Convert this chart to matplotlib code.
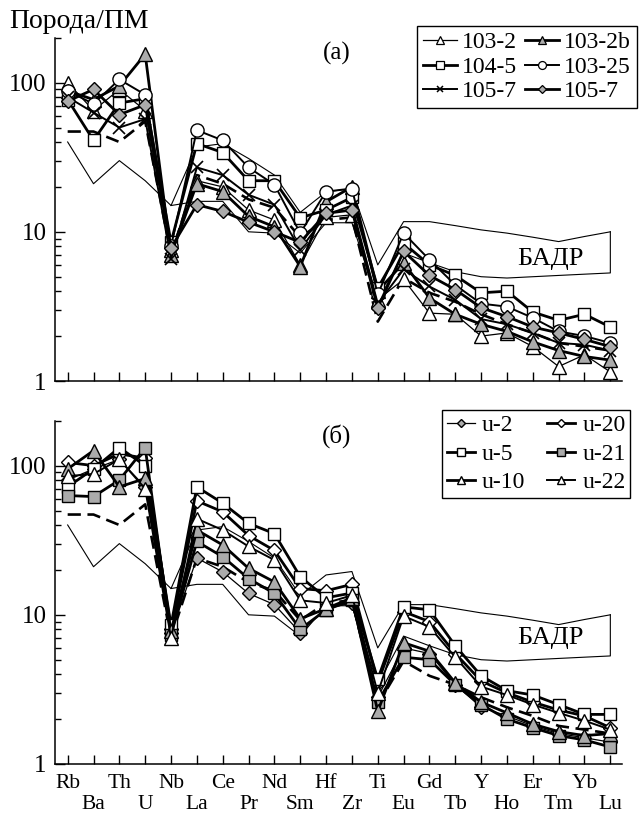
import matplotlib
matplotlib.use("Agg")
import matplotlib.pyplot as plt
from matplotlib.lines import Line2D
from matplotlib.ticker import LogLocator, NullFormatter, FixedLocator
import numpy as np

plt.rcParams['font.family'] = ['Liberation Serif', 'DejaVu Serif']

elements = ["Rb", "Ba", "Th", "U", "Nb", "La", "Ce", "Pr", "Nd", "Sm", "Hf",
            "Zr", "Ti", "Eu", "Gd", "Tb", "Y", "Ho", "Er", "Tm", "Yb", "Lu"]

# BADR field outline (shared by both panels)
field_upper_elems = ["Rb", "Ba", "Th", "U", "Nb", "La", "Ce", "Pr", "Nd", "Sm", "Hf",
                     "Zr", "Ti", "Eu", "Gd", "Tb", "Y", "Ho", "Er", "Tm", "Yb", "Lu"]
field_upper = [40, 21, 30, 22, 15, 37, 39, 31, 24, 13.5, 18.5, 19.5, 6.0,
               11.7, 11.7, 11.0, 10.3, 9.8, 9.2, 8.6, 9.3, 10.0]
field_lower_elems = ["Nb", "La", "Ce", "Pr", "Nd", "Sm", "Hf", "Zr", "Ti", "Eu",
                     "Gd", "Tb", "Y", "Ho", "Er", "Tm", "Yb", "Lu", "Lu"]
field_lower = [15, 16, 16, 10, 9.8, 7.2, 11.5, 11.5, 3.4, 7.2, 6.2, 5.4, 5.0,
               4.9, 5.0, 5.1, 5.2, 5.3, 10.0]

# reference dashed pattern
dashed_ref = [47, 47, 40, 55, 7.0, 24, 21, 16.5, 14.5, 9.2, 12, 12.5, 2.5,
              4.9, 3.9, 3.4, 2.8, 2.4, 2.1, 1.8, 1.7, 1.6]

# panel (a)
a_labels = ["103-2", "103-2b", "104-5", "103-25", "105-7", "105-7"]
a_103_2 = [100, 65, 90, 65, 7.5, 22, 20, 14, 12, 6.0, 12.5, 13, 3.5,
           4.8, 2.85, 2.8, 2.0, 2.1, 1.7, 1.25, 1.5, 1.15]
a_103_2b = [88, 77, 95, 155, 7.0, 21, 18.6, 12.7, 10.8, 5.85, 15.9, 20, 4.0,
            6.2, 3.6, 2.8, 2.4, 2.15, 1.83, 1.6, 1.46, 1.38]
a_104_5 = [77, 41, 73, 78, 8.5, 39, 34, 22, 22, 12.4, 14, 17, 4.2,
           8.4, 6.0, 5.1, 3.9, 4.0, 2.9, 2.55, 2.8, 2.3]
a_103_25 = [88, 72, 105, 83, 8.0, 48, 41, 27, 20.7, 9.8, 18.6, 19.5, 3.8,
            9.8, 6.5, 4.4, 3.3, 3.15, 2.65, 2.15, 2.0, 1.8]
a_105_7x = [80, 63, 50, 57, 6.6, 27, 24, 17.7, 15.2, 7.6, 13, 15, 3.3,
            5.6, 4.3, 3.5, 2.6, 2.4, 2.1, 1.8, 1.75, 1.6]
a_105_7d = [75, 90, 61, 71, 7.8, 15.2, 13.7, 11.6, 10.0, 8.5, 13.3, 14, 3.1,
            7.4, 5.1, 4.1, 3.1, 2.7, 2.3, 2.1, 1.9, 1.7]

# panel (б)
b_labels = ["u-2", "u-20", "u-5", "u-21", "u-10", "u-22"]
b_u2 = [80, 95, 110, 72, 7.5, 24, 19.4, 13.9, 11.7, 7.6, 11, 12, 2.8,
        6.0, 5.5, 3.4, 2.4, 2.1, 1.8, 1.6, 1.5, 1.4]
b_u20 = [105, 100, 120, 112, 8.0, 58, 49, 34, 27, 15, 14.5, 16, 3.5,
         10.5, 9.0, 5.5, 3.6, 3.0, 2.6, 2.3, 2.1, 1.75]
b_u5 = [72, 95, 132, 100, 8.5, 72, 56, 41, 35, 18, 13, 14, 3.7,
        11.3, 10.8, 6.2, 3.9, 3.1, 2.9, 2.5, 2.15, 2.15]
b_u21 = [63, 62, 80, 132, 7.3, 31, 24.5, 17.5, 13.9, 8.0, 10.8, 12.5, 2.6,
         5.2, 5.0, 3.4, 2.5, 2.0, 1.75, 1.55, 1.45, 1.3]
b_u10 = [95, 126, 72, 82, 7.8, 37, 29.4, 20.5, 16.6, 9.4, 11, 13, 2.25,
         6.5, 5.7, 3.5, 2.6, 2.2, 1.85, 1.65, 1.55, 1.6]
b_u22 = [85, 88, 110, 70, 7.0, 44, 37, 28.7, 23.3, 12.5, 12, 13.5, 3.0,
         9.8, 8.3, 5.2, 3.3, 2.9, 2.5, 2.2, 1.95, 1.7]

GRAY = "#ababab"
THIN, MED, THICK = 0.9, 1.4, 2.0

a_styles = [
    dict(marker="^", mfc="white", lw=THIN, ms=9.5),
    dict(marker="^", mfc=GRAY, lw=THICK, ms=9.5),
    dict(marker="s", mfc="white", lw=THICK, ms=9),
    dict(marker="o", mfc="white", lw=MED, ms=9.5),
    dict(marker="x", mfc="white", lw=MED, ms=8, mew=1.2),
    dict(marker="D", mfc=GRAY, lw=THICK, ms=6.8),
]
b_styles = [
    dict(marker="D", mfc=GRAY, lw=THIN, ms=6.8),
    dict(marker="D", mfc="white", lw=THICK, ms=6.8),
    dict(marker="s", mfc="white", lw=THICK, ms=9),
    dict(marker="s", mfc=GRAY, lw=THICK, ms=9),
    dict(marker="^", mfc=GRAY, lw=THICK, ms=9.5),
    dict(marker="^", mfc="white", lw=MED, ms=9.5),
]
b_legend_mfc = [GRAY, "white", "white", GRAY, "white", "white"]

idx = {e: i for i, e in enumerate(elements)}
x = np.arange(len(elements))

fig = plt.figure(figsize=(6.44, 8.14), dpi=100)
W, H = 644.0, 814.0
ax1 = fig.add_axes([55 / W, 1 - 381 / H, (621.7 - 55) / W, (381 - 37.7) / H])
ax2 = fig.add_axes([55 / W, 1 - 764 / H, (621.7 - 55) / W, (764 - 420.7) / H])


def setup(ax, show_labels):
    ax.set_yscale("log")
    ax.set_ylim(1, 200)
    ax.set_xlim(-0.49, 21.44)
    for s in ("top", "right"):
        ax.spines[s].set_visible(False)
    for s in ("left", "bottom"):
        ax.spines[s].set_linewidth(1.1)
    ax.yaxis.set_major_locator(FixedLocator([1, 10, 100]))
    ax.set_yticklabels(["1", "10", "100"])
    ax.yaxis.set_minor_locator(LogLocator(base=10, subs=np.arange(2, 10)))
    ax.yaxis.set_minor_formatter(NullFormatter())
    ax.tick_params(axis="y", which="major", direction="in", length=7.5,
                   width=1.0, labelsize=18, pad=6)
    ax.tick_params(axis="y", which="minor", direction="in", length=4.5, width=1.0)
    ax.set_xticks(x)
    ax.tick_params(axis="x", direction="in", length=6.5, width=1.0, labelsize=15.5)
    if show_labels:
        ax.set_xticklabels(elements)
        for i, t in enumerate(ax.xaxis.get_major_ticks()):
            t.set_pad(7 if i % 2 == 0 else 7 + 15.6)
    else:
        ax.set_xticklabels([])


def draw_field(ax):
    ax.plot([idx[e] for e in field_upper_elems], field_upper, color="black",
            lw=0.8, zorder=2)
    ax.plot([idx[e] for e in field_lower_elems], field_lower, color="black",
            lw=0.8, zorder=2)
    ax.plot(x, dashed_ref, color="black", lw=1.9, ls=(0, (5, 2.5)), zorder=3)


for ax, show in ((ax1, False), (ax2, True)):
    setup(ax, show)
    draw_field(ax)

a_series = [a_103_2, a_103_2b, a_104_5, a_103_25, a_105_7x, a_105_7d]
b_series = [b_u2, b_u20, b_u5, b_u21, b_u10, b_u22]

a_handles = []
for vals, st, lab in zip(a_series, a_styles, a_labels):
    ax1.plot(x, vals, color="black", lw=st["lw"], marker=st["marker"],
             ms=st["ms"], mfc=st["mfc"], mec="black", mew=st.get("mew", 1.0),
             zorder=4)
    a_handles.append(Line2D([], [], color="black", lw=st["lw"], marker=st["marker"],
                            ms=st["ms"] * 0.6, mfc=st["mfc"], mec="black",
                            mew=st.get("mew", 1.0) * 0.9))

b_handles = []
for vals, st, lab, lmfc in zip(b_series, b_styles, b_labels, b_legend_mfc):
    ax2.plot(x, vals, color="black", lw=st["lw"], marker=st["marker"],
             ms=st["ms"], mfc=st["mfc"], mec="black", mew=1.0, zorder=4)
    b_handles.append(Line2D([], [], color="black", lw=st["lw"], marker=st["marker"],
                            ms=st["ms"] * 0.6, mfc=lmfc, mec="black", mew=1.0))

leg_kw = dict(frameon=True, fancybox=False, shadow=False, framealpha=1,
              edgecolor="black", borderaxespad=0, ncol=2,
              bbox_transform=fig.transFigure, loc="upper left")
order_a = [0, 2, 4, 1, 3, 5]
lg1 = ax1.legend([a_handles[i] for i in order_a], [a_labels[i] for i in order_a],
                 bbox_to_anchor=(417 / W, 1 - 26 / H), fontsize=17,
                 handlelength=1.45, handletextpad=0.2, columnspacing=0.35,
                 labelspacing=0.12, borderpad=0.25, **leg_kw)
lg1.get_frame().set_linewidth(1.0)
lg2 = ax2.legend([b_handles[i] for i in order_a], [b_labels[i] for i in order_a],
                 bbox_to_anchor=(442 / W, 1 - 410 / H), fontsize=17,
                 handlelength=1.2, handletextpad=0.3, columnspacing=0.9,
                 labelspacing=0.3, borderpad=0.2, **leg_kw)
lg2.get_frame().set_linewidth(1.0)

fig.text(337 / W, 1 - 53 / H, "(а)", fontsize=18, ha="center", va="center")
fig.text(337 / W, 1 - 436 / H, "(б)", fontsize=18, ha="center", va="center")
fig.text(550 / W, 1 - 259 / H, "БАДР", fontsize=19, ha="center", va="center")
fig.text(550 / W, 1 - 638 / H, "БАДР", fontsize=19, ha="center", va="center")
fig.text(9 / W, 1 - 22 / H, "Порода/ПМ", fontsize=20, ha="left", va="center")

fig.savefig("out.png", dpi=100)
